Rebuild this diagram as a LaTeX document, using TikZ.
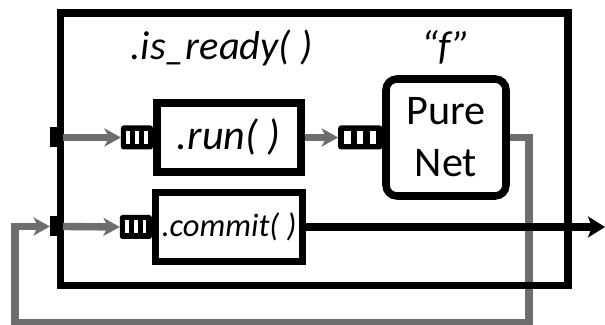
\documentclass[tikz,border=0pt]{standalone}
\usepackage{fontspec}
\setmainfont{Carlito}
\usepackage{tikz}
\usetikzlibrary{positioning}
\usetikzlibrary{arrows.meta}
\usetikzlibrary{backgrounds}
\definecolor{wiregray}{gray}{0.43}
\tikzset{
    frame/.style = {draw=black, line width=4.3pt, minimum width=10.15cm, minimum height=5.45cm},
    box/.style = {draw=black, line width=4.3pt, minimum width=2.88cm, minimum height=1.38cm, align=center, font=\itshape\fontsize{24}{28}\selectfont},
    purebox/.style = {draw=black, line width=4.3pt, rounded corners=0.22cm, minimum width=2.40cm, minimum height=2.34cm, align=center, font=\fontsize{24}{29.6}\selectfont},
    title/.style = {anchor=base, inner sep=0pt, font=\itshape\fontsize{23}{28}\selectfont},
    queue/.style = {fill=black, anchor=east, outer sep=0pt, inner sep=0pt, rounded corners=1.5pt, minimum height=0.48cm},
    port/.style = {fill=black, outer sep=0pt, inner sep=0pt, minimum width=0.26cm, minimum height=0.40cm},
}
\begin{document}
\begin{tikzpicture}[
	thick
]
\tikzset{
    wire/.style = {-{Stealth[length=0.33cm, width=0.36cm, inset=0.09cm]}, line width=4.2pt, wiregray},
    outwire/.style = {-{Stealth[length=0.34cm, width=0.42cm, inset=0.08cm]}, line width=4.6pt, black}
}
\useasboundingbox (0,0) rectangle (12.1,6.5);
\node[frame] at (6.285,3.515) (ready) {};
\node[title] at (4.43,5.3) (readytxt) {.is\_ready( )};
\node[title] at (8.92,5.3) (ftxt) {“f”};
%
\node[box] at (4.575,3.75) (run) {.run( )};
\node[box, font=\itshape\fontsize{18.5}{22}\selectfont] at (4.58,1.96) (commit) {.commit( )};
\node[purebox] at (8.92,3.75) (pure) {Pure\\Net};
%
\node[queue, minimum width=0.64cm] at (run.west) (q1) {};
\node[queue, minimum width=0.88cm] at (pure.west) (q2) {};
\node[queue, minimum width=0.64cm] at (commit.west) (q3) {};
\foreach \q/\w/\s in {q1/0.64/0.07, q2/0.88/0.13, q3/0.64/0.07}
    \foreach \k in {0,1,2}
        \fill[white] ([xshift={((\w-3*\s)/4*(\k+1)+\s*\k)*1cm}, yshift=-0.13cm]\q.west) rectangle ++(\s,0.26);
%
\node[port] at (1.13,3.75) (m1) {};
\node[port] at (1.13,1.97) (m2) {};
%
\coordinate (fbr) at (10.58,0.05);
\coordinate (fbl) at (0.3,0.05);
\coordinate (out) at (12.1,1.96);
%
\draw[wire] (m1.east) -- (q1.west);
\draw[wire] (run.east) -- (q2.west);
\draw[wire] (m2.east) -- (q3.west);
\draw[outwire] (commit.east) -- (out);
\begin{scope}[on background layer]
\draw[wire] (pure.east) -| (fbr) -- (fbl) |- (m2.west);
\end{scope}
\end{tikzpicture}
\end{document}
